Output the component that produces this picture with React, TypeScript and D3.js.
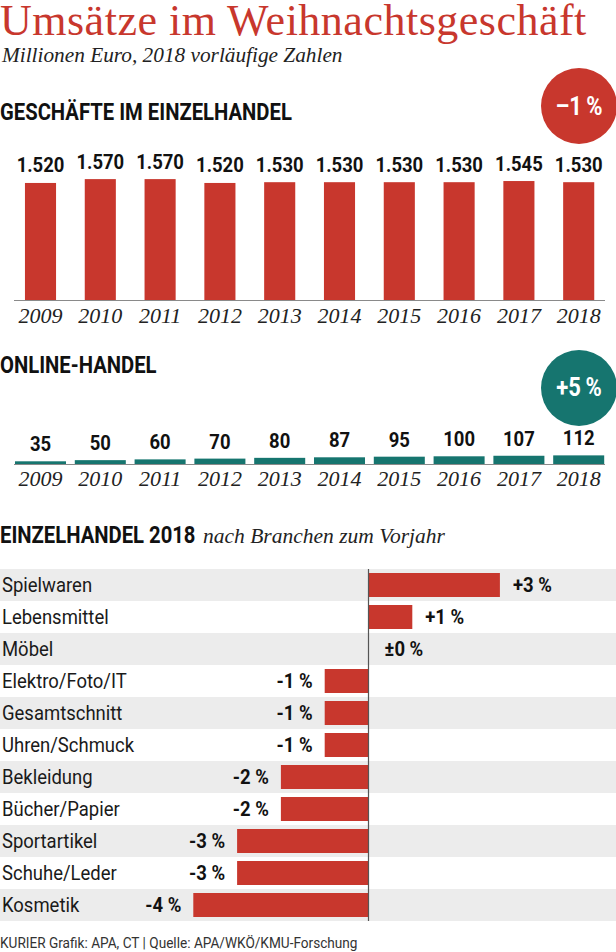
import React from "react";
import * as d3 from "d3";

const years = ["2009", "2010", "2011", "2012", "2013", "2014", "2015", "2016", "2017", "2018"];
const storeValues = [1520, 1570, 1570, 1520, 1530, 1530, 1530, 1530, 1545, 1530];
const onlineValues = [35, 50, 60, 70, 80, 87, 95, 100, 107, 112];
const branches = [
  "Spielwaren",
  "Lebensmittel",
  "Möbel",
  "Elektro/Foto/IT",
  "Gesamtschnitt",
  "Uhren/Schmuck",
  "Bekleidung",
  "Bücher/Papier",
  "Sportartikel",
  "Schuhe/Leder",
  "Kosmetik",
];
const branchChanges = [3, 1, 0, -1, -1, -1, -2, -2, -3, -3, -4];
const storeChangeLabel = "\u20131\u2009%";
const onlineChangeLabel = "+5\u2009%";

const RED = "#c8372d";
const TEAL = "#16756f";
const SANS = "Roboto, 'DejaVu Sans', sans-serif";
const SERIF = "'Liberation Serif', 'DejaVu Serif', serif";
const SX = 0.88;

const de = d3.formatLocale({ decimal: ",", thousands: ".", grouping: [3], currency: ["", " €"] });
const fmt = de.format(",");
const pct = (v: number) => (v > 0 ? `+${v} %` : v < 0 ? `-${Math.abs(v)} %` : "±0 %");

type NTProps = {
  x: number;
  y: number;
  size: number;
  anchor?: "start" | "middle" | "end";
  weight?: string;
  fill?: string;
  children: React.ReactNode;
};

function NT({ x, y, size, anchor = "start", weight = "normal", fill = "#111", children }: NTProps) {
  return (
    <text
      transform={`translate(${x},${y}) scale(${SX},1)`}
      textAnchor={anchor}
      fontFamily={SANS}
      fontSize={size}
      fontWeight={weight}
      fill={fill}
    >
      {children}
    </text>
  );
}

export default function App() {
  const W = 616;
  const H = 952;

  const xTop = d3.scaleBand<string>().domain(years).range([10.6, 608.6]).paddingInner(0.48).paddingOuter(0.24);
  const xOnline = d3.scaleBand<string>().domain(years).range([10.6, 608.6]).paddingInner(0.147).paddingOuter(0.0735);

  const topBase = 300;
  const onlineBase = 464;
  const yTop = d3.scaleLinear().domain([0, 1600]).range([topBase, topBase - 123.2]);
  const yOnline = d3.scaleLinear().domain([0, 1600]).range([onlineBase, onlineBase - 123.2]);

  const rows = d3.scaleBand<string>().domain(branches).range([569, 921]);
  const xb = d3.scaleLinear().domain([-4, 3]).range([193.3, 499.9]);

  return (
    <svg
      width={W}
      height={H}
      viewBox={`0 0 ${W} ${H}`}
      style={{ position: "absolute", left: 0, top: 0, background: "#fff" }}
    >
      <rect x={0} y={0} width={W} height={H} fill="#fff" />
      {/* Title */}
      <text x={0} y={35} fontFamily={SERIF} fontSize={44} letterSpacing={0.5} fill={RED}>
        Umsätze im Weihnachtsgeschäft
      </text>
      <text x={2} y={62} fontFamily={SERIF} fontStyle="italic" fontSize={21.3} fill="#222">
        Millionen Euro, 2018 vorläufige Zahlen
      </text>

      {/* Section 1 */}
      <NT x={0} y={120} size={23} weight="bold">
        GESCHÄFTE IM EINZELHANDEL
      </NT>
      <circle cx={579} cy={106} r={38} fill={RED} />
      <NT x={579} y={115} anchor="middle" size={25} weight="bold" fill="#fff">
        {storeChangeLabel}
      </NT>
      {years.map((yr, i) => (
        <g key={"t" + yr}>
          <rect
            x={xTop(yr)!}
            y={yTop(storeValues[i])}
            width={xTop.bandwidth()}
            height={topBase - yTop(storeValues[i])}
            fill={RED}
          />
          <NT
            x={xTop(yr)! + xTop.bandwidth() / 2}
            y={yTop(storeValues[i]) - 10.5}
            anchor="middle"
            size={21}
            weight="bold"
          >
            {fmt(storeValues[i])}
          </NT>
          <text
            x={xTop(yr)! + xTop.bandwidth() / 2}
            y={323}
            textAnchor="middle"
            fontFamily={SERIF}
            fontStyle="italic"
            fontSize={22}
            fill="#222"
          >
            {yr}
          </text>
        </g>
      ))}
      <line x1={14} x2={605} y1={topBase + 0.5} y2={topBase + 0.5} stroke="#8a8a8a" strokeWidth={1} />

      {/* Section 2 */}
      <NT x={0} y={373} size={23} weight="bold">
        ONLINE-HANDEL
      </NT>
      <circle cx={579} cy={388} r={38} fill={TEAL} />
      <NT x={579} y={396} anchor="middle" size={25} weight="bold" fill="#fff">
        {onlineChangeLabel}
      </NT>
      {years.map((yr, i) => (
        <g key={"o" + yr}>
          <rect
            x={xOnline(yr)!}
            y={yOnline(onlineValues[i])}
            width={xOnline.bandwidth()}
            height={onlineBase - yOnline(onlineValues[i])}
            fill={TEAL}
          />
          <NT
            x={xOnline(yr)! + xOnline.bandwidth() / 2}
            y={yOnline(onlineValues[i]) - 10}
            anchor="middle"
            size={21}
            weight="bold"
          >
            {fmt(onlineValues[i])}
          </NT>
          <text
            x={xOnline(yr)! + xOnline.bandwidth() / 2}
            y={486}
            textAnchor="middle"
            fontFamily={SERIF}
            fontStyle="italic"
            fontSize={22}
            fill="#222"
          >
            {yr}
          </text>
        </g>
      ))}
      <line x1={14} x2={605} y1={onlineBase + 0.5} y2={onlineBase + 0.5} stroke="#8a8a8a" strokeWidth={1} />

      {/* Section 3 */}
      <NT x={0} y={543} size={23} weight="bold">
        EINZELHANDEL 2018
      </NT>
      <text x={203} y={543} fontFamily={SERIF} fontStyle="italic" fontSize={21.5} fill="#222">
        nach Branchen zum Vorjahr
      </text>
      {branches.map((b, i) => (
        <g key={b}>
          {i % 2 === 0 && <rect x={0} y={rows(b)!} width={W} height={rows.bandwidth()} fill="#ececec" />}
        </g>
      ))}
      {branches.map((b, i) => {
        const v = branchChanges[i];
        const y0 = rows(b)!;
        const x0 = xb(Math.min(0, v));
        const x1 = xb(Math.max(0, v));
        const labelX = v > 0 ? x1 + 13 : v < 0 ? x0 - 12 : xb(0) + 16;
        return (
          <g key={"b" + b}>
            {v !== 0 && <rect x={x0} y={y0 + 4} width={x1 - x0} height={24} fill={RED} />}
            <NT x={2} y={y0 + 23} size={21} fill="#1a1a1a">
              {b}
            </NT>
            <NT x={labelX} y={y0 + 23} anchor={v < 0 ? "end" : "start"} size={21} weight="bold">
              {pct(v)}
            </NT>
          </g>
        );
      })}
      <line x1={xb(0)} x2={xb(0)} y1={569} y2={921} stroke="#555" strokeWidth={1.2} />

      {/* Footer */}
      <NT x={0} y={948} size={15.5} fill="#333">
        KURIER Grafik: APA, CT | Quelle: APA/WKÖ/KMU-Forschung
      </NT>
    </svg>
  );
}
